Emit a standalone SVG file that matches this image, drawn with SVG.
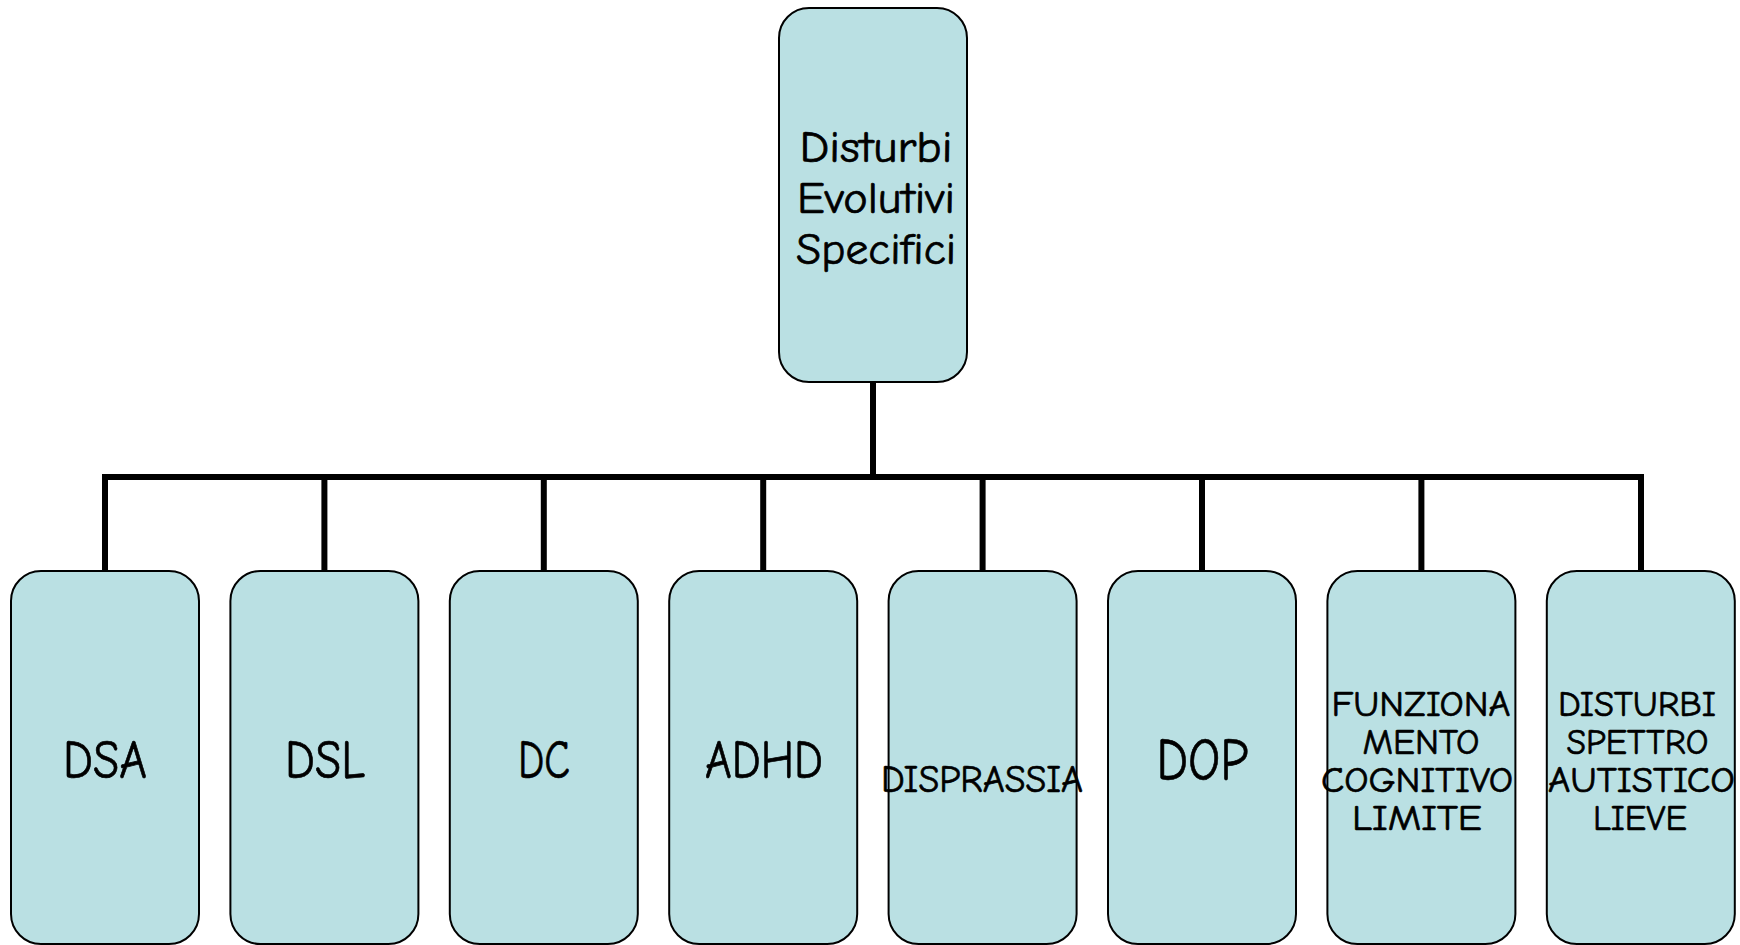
<svg xmlns="http://www.w3.org/2000/svg" width="1740" height="945" viewBox="0 0 1740 945">
  <style>
    .box { fill: #bae0e3; stroke: #000; stroke-width: 2; }
    .link { fill: none; stroke: #000; stroke-width: 6; stroke-linecap: butt; stroke-linejoin: miter; }
    .lbl { font-family: "Comic Sans MS", "Comic Neue", "DejaVu Sans", sans-serif; fill: #000; stroke: #000; stroke-width: 0.7; text-anchor: middle; }
  </style>
  <rect width="1740" height="945" fill="#fff"/>

  <!-- connectors: trunk, bus bar and drops -->
  <g id="connectors">
    <path class="link" d="M873 382 V477"/>
    <path class="link" d="M105 571 V477 H1641 V571"/>
    <path class="link" d="M324.4 477 V571 M543.8 477 V571 M763.2 477 V571 M982.6 477 V571 M1202 477 V571 M1421.4 477 V571"/>
  </g>

  <g id="root">
    <rect class="box" x="779" y="8" width="188" height="374" rx="30"/>
    <text class="lbl" font-size="44" x="876" y="162" textLength="153" lengthAdjust="spacingAndGlyphs">Disturbi</text>
    <text class="lbl" font-size="44" x="876" y="213" textLength="158" lengthAdjust="spacingAndGlyphs">Evolutivi</text>
    <text class="lbl" font-size="44" x="876" y="264" textLength="160" lengthAdjust="spacingAndGlyphs">Specifici</text>
  </g>

  <g id="dsa">
    <rect class="box" x="11" y="571" width="188" height="373" rx="30"/>
    <text class="lbl" font-size="54" x="105" y="778" textLength="84" lengthAdjust="spacingAndGlyphs">DSA</text>
  </g>
  <g id="dsl">
    <rect class="box" x="230.4" y="571" width="188" height="373" rx="30"/>
    <text class="lbl" font-size="54" x="325" y="778" textLength="80" lengthAdjust="spacingAndGlyphs">DSL</text>
  </g>
  <g id="dc">
    <rect class="box" x="449.8" y="571" width="188" height="373" rx="30"/>
    <text class="lbl" font-size="54" x="544" y="778" textLength="52" lengthAdjust="spacingAndGlyphs">DC</text>
  </g>
  <g id="adhd">
    <rect class="box" x="669.2" y="571" width="188" height="373" rx="30"/>
    <text class="lbl" font-size="54" x="764" y="778" textLength="118" lengthAdjust="spacingAndGlyphs">ADHD</text>
  </g>
  <g id="disprassia">
    <rect class="box" x="888.6" y="571" width="188" height="373" rx="30"/>
    <text class="lbl" font-size="39" x="982" y="792" textLength="202" lengthAdjust="spacingAndGlyphs">DISPRASSIA</text>
  </g>
  <g id="dop">
    <rect class="box" x="1108" y="571" width="188" height="373" rx="30"/>
    <text class="lbl" font-size="61" x="1202.5" y="780" textLength="92" lengthAdjust="spacingAndGlyphs">DOP</text>
  </g>
  <g id="funzionamento">
    <rect class="box" x="1327.4" y="571" width="188" height="373" rx="30"/>
    <text class="lbl" font-size="37" x="1421" y="716" textLength="179" lengthAdjust="spacingAndGlyphs">FUNZIONA</text>
    <text class="lbl" font-size="37" x="1421" y="754" textLength="117" lengthAdjust="spacingAndGlyphs">MENTO</text>
    <text class="lbl" font-size="37" x="1417" y="792" textLength="192" lengthAdjust="spacingAndGlyphs">COGNITIVO</text>
    <text class="lbl" font-size="37" x="1417" y="830" textLength="130" lengthAdjust="spacingAndGlyphs">LIMITE</text>
  </g>
  <g id="autismo">
    <rect class="box" x="1546.8" y="571" width="188" height="373" rx="30"/>
    <text class="lbl" font-size="37" x="1637" y="716" textLength="158" lengthAdjust="spacingAndGlyphs">DISTURBI</text>
    <text class="lbl" font-size="37" x="1637.5" y="754" textLength="142" lengthAdjust="spacingAndGlyphs">SPETTRO</text>
    <text class="lbl" font-size="37" x="1641.5" y="792" textLength="187" lengthAdjust="spacingAndGlyphs">AUTISTICO</text>
    <text class="lbl" font-size="37" x="1640" y="830" textLength="94" lengthAdjust="spacingAndGlyphs">LIEVE</text>
  </g>
</svg>
